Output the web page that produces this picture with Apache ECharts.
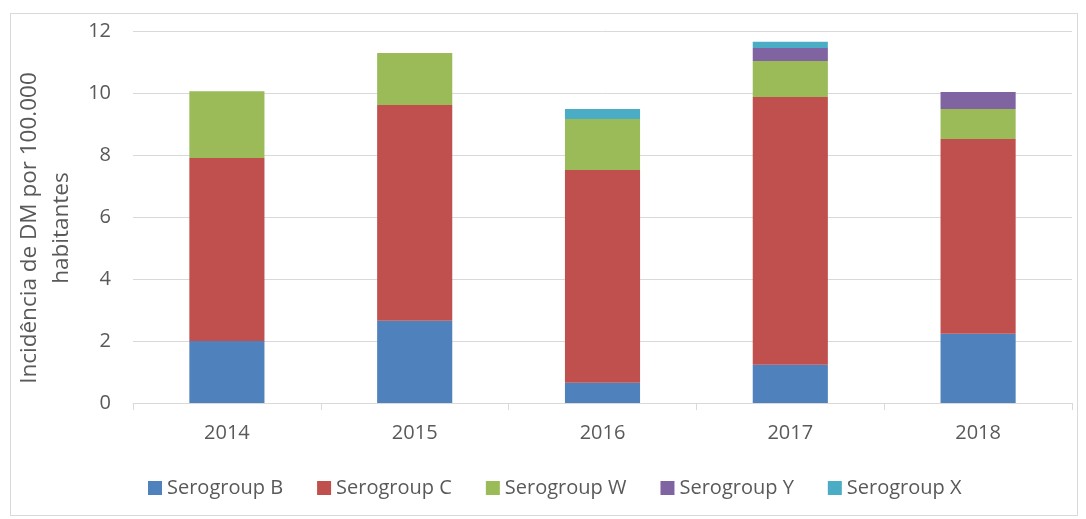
<!DOCTYPE html>
<html>
<head>
<meta charset="utf-8">
<script src="https://cdn.jsdelivr.net/npm/echarts@6/dist/echarts.min.js"></script>
<style>
  html, body { margin: 0; padding: 0; background: #fff; }
  #frame { position: absolute; left: 10px; top: 13px; width: 1068px; height: 503px; border: 1px solid #d9d9d9; box-sizing: border-box; }
  #chart { position: absolute; left: 0; top: 0; width: 1086px; height: 519px; }
</style>
</head>
<body>
<div id="frame"></div>
<div id="chart"></div>
<script>
// categorias (anos) e valores por serogrupo
const years = ['2014', '2015', '2016', '2017', '2018']
const serogroupB = [2.0, 2.65, 0.65, 1.23, 2.23]
const serogroupC = [5.9, 6.96, 6.87, 8.64, 6.29]
const serogroupW = [2.16, 1.68, 1.64, 1.16, 0.96]
const serogroupY = [0, 0, 0, 0.42, 0.55]
const serogroupX = [0, 0, 0.32, 0.2, 0]
const seriesNames = ['Serogroup B', 'Serogroup C', 'Serogroup W', 'Serogroup Y', 'Serogroup X']
const colors = ['#4f81bd', '#c0504d', '#9bbb59', '#8064a2', '#4bacc6']

const chart = echarts.init(document.getElementById('chart'))
const font = '"Open Sans", "Noto Sans", sans-serif'

function barSeries (name, data, i) {
  return {
    name: name,
    type: 'bar',
    stack: 'total',
    barWidth: '40%',
    data: data,
    itemStyle: { color: colors[i] }
  }
}

const option = {
  animation: false,
  textStyle: { fontFamily: font },
  grid: { left: 133, right: 14, top: 31, bottom: 116, containLabel: false, outerBoundsMode: 'none' },
  legend: {
    bottom: 16,
    left: 143,
    itemWidth: 14,
    itemHeight: 14,
    itemGap: 34,
    icon: 'rect',
    textStyle: { fontSize: 20, color: '#595959', fontFamily: font },
    data: seriesNames
  },
  xAxis: {
    type: 'category',
    data: years,
    axisLine: { lineStyle: { color: '#d9d9d9', width: 1 } },
    axisTick: { show: true, length: 7, lineStyle: { color: '#d9d9d9' } },
    axisLabel: { fontSize: 20, color: '#595959', margin: 20 }
  },
  yAxis: {
    type: 'value',
    min: 0,
    max: 12,
    interval: 2,
    name: 'Incidência de DM por 100.000\nhabitantes',
    nameLocation: 'middle',
    nameGap: 48,
    nameTextStyle: { fontSize: 22.5, color: '#595959', lineHeight: 32, padding: [0, 22, 0, 0] },
    axisLine: { show: false },
    axisTick: { show: false },
    axisLabel: { fontSize: 20, color: '#595959', margin: 22 },
    splitLine: { lineStyle: { color: '#d9d9d9', width: 1 } }
  },
  series: [
    barSeries(seriesNames[0], serogroupB, 0),
    barSeries(seriesNames[1], serogroupC, 1),
    barSeries(seriesNames[2], serogroupW, 2),
    barSeries(seriesNames[3], serogroupY, 3),
    barSeries(seriesNames[4], serogroupX, 4)
  ]
}

chart.setOption(option)
</script>
</body>
</html>
